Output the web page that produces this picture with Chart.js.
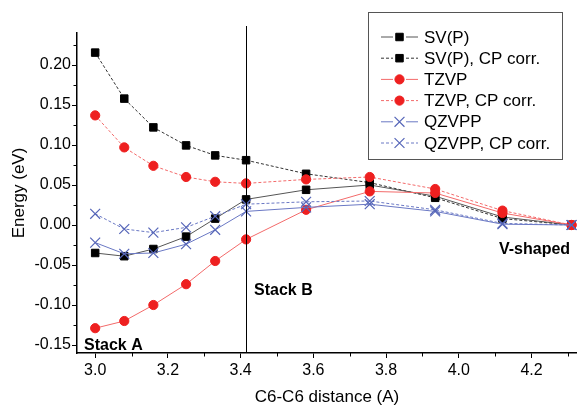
<!DOCTYPE html>
<html lang="en">
<head>
<meta charset="UTF-8">
<title>Energy vs C6-C6 distance</title>
<script src="https://cdn.jsdelivr.net/npm/chart.js"></script>
<style>
  html, body { margin: 0; padding: 0; background: #fff; }
  #chartContainer { width: 577px; height: 406px; }
</style>
</head>
<body>
<div id="chartContainer">
  <canvas id="myChart" width="577" height="406"></canvas>
</div>

<script>
// x values (C6-C6 distance, A)
const distances = [3.0, 3.08, 3.16, 3.25, 3.33, 3.415, 3.58, 3.755, 3.935, 4.12, 4.31];

// energies (eV)
const svp     = [-0.035, -0.039, -0.030, -0.0145, 0.008, 0.032, 0.044, 0.050, 0.036, 0.010, 0.0];
const svpCp   = [0.2155, 0.158, 0.122, 0.0995, 0.087, 0.081, 0.064, 0.053, 0.034, 0.008, 0.0];
const tzvp    = [-0.129, -0.120, -0.100, -0.074, -0.045, -0.018, 0.019, 0.042, 0.040, 0.015, 0.0];
const tzvpCp  = [0.137, 0.097, 0.074, 0.060, 0.054, 0.052, 0.057, 0.060, 0.045, 0.018, 0.0];
const qzvpp   = [-0.022, -0.036, -0.035, -0.024, -0.006, 0.017, 0.022, 0.026, 0.017, 0.001, 0.0];
const qzvppCp = [0.014, -0.005, -0.0095, -0.003, 0.011, 0.026, 0.029, 0.030, 0.019, 0.002, 0.0];

const seriesNames = ['SV(P)', 'SV(P), CP corr.', 'TZVP', 'TZVP, CP corr.', 'QZVPP', 'QZVPP, CP corr.'];

// tick labels
const xTicks = [3.0, 3.2, 3.4, 3.6, 3.8, 4.0, 4.2];
const xMinorTicks = [3.1, 3.3, 3.5, 3.7, 3.9, 4.1, 4.3];
const yTicks = [-0.15, -0.10, -0.05, 0.00, 0.05, 0.10, 0.15, 0.20];
const yMinorTicks = [-0.125, -0.075, -0.025, 0.025, 0.075, 0.125, 0.175, 0.225];

// x position of the stack B marker line
const stackBLine = 3.415;

const annotations = [
    { text: 'Stack A', x: 84, y: 350 },
    { text: 'Stack B', x: 254, y: 295 },
    { text: 'V-shaped', x: 499, y: 254 }
];

const FONT = '"Liberation Sans", Arial, sans-serif';
const RED = '#ee2020';
const BLUE = '#5565b8';

function pts(values) {
    return distances.map((d, i) => ({ x: d, y: values[i] }));
}

function makeSet(label, values, style) {
    return Object.assign({
        label: label,
        data: pts(values),
        borderWidth: 1,
        tension: 0,
        fill: false,
        clip: false
    }, style);
}

const blackStyle = { borderColor: '#555', pointStyle: 'rect', pointRadius: 5.3, pointBackgroundColor: '#000', pointBorderColor: '#000', pointBorderWidth: 1, order: 3 };
const redStyle = { borderColor: '#f36a6a', pointStyle: 'circle', pointRadius: 4.6, pointBackgroundColor: RED, pointBorderColor: RED, pointBorderWidth: 1, order: 2 };
const blueStyle = { borderColor: '#6a78c4', pointStyle: 'crossRot', pointRadius: 7, pointBackgroundColor: BLUE, pointBorderColor: BLUE, pointBorderWidth: 1.2, order: 1 };
const dash = { borderDash: [3, 2] };

const datasets = [
    makeSet(seriesNames[0], svp, blackStyle),
    makeSet(seriesNames[1], svpCp, Object.assign({}, blackStyle, dash, { borderColor: '#333' })),
    makeSet(seriesNames[2], tzvp, redStyle),
    makeSet(seriesNames[3], tzvpCp, Object.assign({}, redStyle, dash)),
    makeSet(seriesNames[4], qzvpp, blueStyle),
    makeSet(seriesNames[5], qzvppCp, Object.assign({}, blueStyle, dash))
];

function drawMarker(ctx, ds, x, y) {
    ctx.save();
    ctx.fillStyle = ds.pointBackgroundColor;
    ctx.strokeStyle = ds.pointBorderColor;
    ctx.lineWidth = ds.pointBorderWidth;
    ctx.setLineDash([]);
    ctx.beginPath();
    if (ds.pointStyle === 'rect') {
        const s = Math.SQRT1_2 * ds.pointRadius;
        ctx.rect(x - s, y - s, 2 * s, 2 * s);
        ctx.fill();
        ctx.stroke();
    } else if (ds.pointStyle === 'circle') {
        ctx.arc(x, y, ds.pointRadius, 0, Math.PI * 2);
        ctx.fill();
        ctx.stroke();
    } else {
        const s = Math.SQRT1_2 * ds.pointRadius;
        ctx.moveTo(x - s, y - s); ctx.lineTo(x + s, y + s);
        ctx.moveTo(x + s, y - s); ctx.lineTo(x - s, y + s);
        ctx.stroke();
    }
    ctx.restore();
}

const extrasPlugin = {
    id: 'extras',
    afterDatasetsDraw(chart) {
        const ctx = chart.ctx;
        const xs = chart.scales.x, ys = chart.scales.y;
        const area = chart.chartArea;

        // vertical line at stack B
        const lx = Math.round(xs.getPixelForValue(stackBLine)) + 0.5;
        ctx.save();
        ctx.strokeStyle = '#000';
        ctx.lineWidth = 1;
        ctx.beginPath();
        ctx.moveTo(lx, area.top - 7);
        ctx.lineTo(lx, area.bottom);
        ctx.stroke();

        // minor ticks
        xMinorTicks.forEach(v => {
            const px = Math.round(xs.getPixelForValue(v)) + 0.5;
            ctx.beginPath();
            ctx.moveTo(px, area.bottom);
            ctx.lineTo(px, area.bottom + 3.5);
            ctx.stroke();
        });
        yMinorTicks.forEach(v => {
            const py = Math.round(ys.getPixelForValue(v)) + 0.5;
            ctx.beginPath();
            ctx.moveTo(area.left, py);
            ctx.lineTo(area.left - 3.5, py);
            ctx.stroke();
        });

        // annotations
        ctx.fillStyle = '#000';
        ctx.font = 'bold 16px ' + FONT;
        ctx.textBaseline = 'alphabetic';
        ctx.textAlign = 'left';
        annotations.forEach(a => ctx.fillText(a.text, a.x, a.y));

        // legend
        ctx.strokeStyle = '#555';
        ctx.lineWidth = 1;
        ctx.strokeRect(368.5, 12.5, 194, 147);
        ctx.font = '17px ' + FONT;
        ctx.textBaseline = 'middle';
        chart.data.datasets.forEach((ds, i) => {
            const y = 37 + i * 21.2;
            ctx.strokeStyle = ds.borderColor;
            ctx.lineWidth = 1;
            ctx.setLineDash(ds.borderDash || []);
            ctx.beginPath();
            ctx.moveTo(381, y); ctx.lineTo(393, y);
            ctx.moveTo(406, y); ctx.lineTo(418, y);
            ctx.stroke();
            ctx.setLineDash([]);
            drawMarker(ctx, ds, 399.5, y);
            ctx.fillStyle = '#000';
            ctx.fillText(ds.label, 424, y + 1);
        });
        ctx.restore();
    }
};

const ctx = document.getElementById('myChart').getContext('2d');
const myChart = new Chart(ctx, {
    type: 'line',
    data: { datasets: datasets },
    options: {
        responsive: false,
        animation: false,
        events: [],
        layout: { autoPadding: false, padding: { top: 33, right: 0, bottom: 0, left: 0 } },
        plugins: { legend: { display: false }, tooltip: { enabled: false } },
        scales: {
            x: {
                type: 'linear',
                min: 2.95,
                max: 4.325,
                border: { display: true, color: '#000', width: 1.5 },
                grid: { drawOnChartArea: false, drawTicks: true, tickLength: 5, color: '#000' },
                afterBuildTicks: s => { s.ticks = xTicks.map(v => ({ value: v })); },
                ticks: {
                    padding: 3,
                    color: '#000',
                    font: { family: FONT, size: 16 },
                    callback: v => v.toFixed(1)
                },
                title: {
                    display: true,
                    text: 'C6-C6 distance (A)',
                    color: '#000',
                    font: { family: FONT, size: 17 },
                    padding: { top: 0, bottom: -2 }
                },
                afterFit: s => { s.height = 53; }
            },
            y: {
                type: 'linear',
                min: -0.16,
                max: 0.24,
                border: { display: true, color: '#000', width: 1.5 },
                grid: { drawOnChartArea: false, drawTicks: true, tickLength: 5, color: '#000' },
                afterBuildTicks: s => { s.ticks = yTicks.map(v => ({ value: v })); },
                ticks: {
                    padding: 1,
                    color: '#000',
                    font: { family: FONT, size: 16 },
                    callback: v => v.toFixed(2)
                },
                title: {
                    display: true,
                    text: 'Energy (eV)',
                    color: '#000',
                    font: { family: FONT, size: 17 },
                    padding: { top: 9, bottom: 0 }
                },
                afterFit: s => { s.width = 77; }
            }
        }
    },
    plugins: [extrasPlugin]
});
</script>
</body>
</html>
